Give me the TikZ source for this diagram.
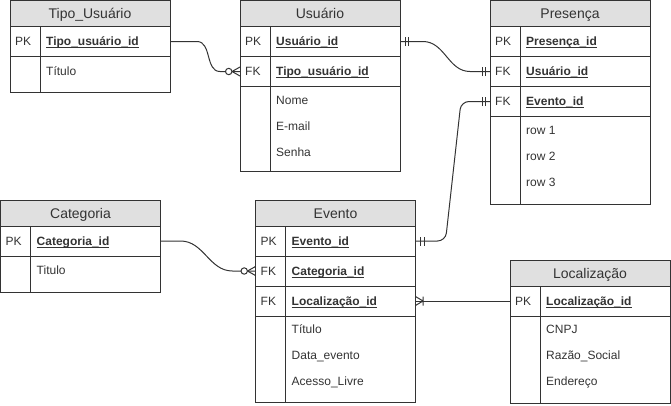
\documentclass[tikz,border=0pt]{standalone}
\usepackage{fontspec}
\setmainfont{Liberation Sans}
\usepackage{tikz}
\usetikzlibrary{positioning,decorations.markings}
\definecolor{hdrgray}{HTML}{E0E0E0}
\definecolor{inkgray}{HTML}{333333}
\newcommand{\keyul}[1]{\underline{\smash{#1}}}

\begin{document}
\begin{tikzpicture}[x=1pt,y=-1pt,
  font=\fontsize{12}{14}\selectfont, text=inkgray,
  tabhead/.style={draw=inkgray,fill=hdrgray,line width=1pt,minimum width=160pt,
                  minimum height=26pt,inner sep=0pt,outer sep=0pt,
                  text height=13pt,text depth=3pt,font=\fontsize{14}{16}\selectfont},
  tabrow/.style={draw=inkgray,line width=1pt,minimum width=160pt,
                 minimum height=30pt,inner sep=0pt,outer sep=0pt},
  keytag/.style={anchor=base west,inner sep=0pt},
  keyfield/.style={anchor=base west,inner sep=0pt,
                   font=\fontsize{12}{14}\selectfont\bfseries},
  attr/.style={anchor=base west,inner sep=0pt},
  divider/.style={inkgray,line width=1pt},
  rel/.style={black!80,line width=1pt},
  onestart/.style={postaction={decorate,decoration={markings,
      mark=at position 5pt with {\draw[rel] (0,-4.5pt) -- (0,4.5pt);},
      mark=at position 8.5pt with {\draw[rel] (0,-4.5pt) -- (0,4.5pt);}}}},
  oneend/.style={postaction={decorate,decoration={markings,
      mark=at position -8pt with {\draw[rel] (0,-4.5pt) -- (0,4.5pt);},
      mark=at position -4.5pt with {\draw[rel] (0,-4.5pt) -- (0,4.5pt);}}}},
  zeromanyend/.style={postaction={decorate,decoration={markings,
      mark=at position -8pt with {\draw[rel] (0,0) -- (8pt,4.5pt) (0,0) -- (8pt,-4.5pt);
                                 \draw[rel,fill=white] (-3.3pt,0) circle (3.2pt);}}}},
  onemanystart/.style={postaction={decorate,decoration={markings,
      mark=at position 7.5pt with {\draw[rel] (0,0) -- (-7.5pt,4.5pt) (0,0) -- (-7.5pt,-4.5pt)
                                               (0,-4.5pt) -- (0,4.5pt);}}}}
]
  \useasboundingbox (0,0) rectangle (671,405);

  % Tipo_Usuario table
  \node[tabhead] (tu) at (90,13.5) {Tipo\_Usuário};
  \node[tabrow,below=0pt of tu] (tupk) {};
  \node[tabrow,below=0pt of tupk,minimum height=36pt] (tuat) {};
  \draw[divider] ([xshift=30pt]tupk.north west) -- ([xshift=30pt]tuat.south west);
  \node[keytag] (tupkk) at ([xshift=5pt,yshift=-4.3pt]tupk.west) {PK};
  \node[keyfield] (tupkf) at ([xshift=36pt,yshift=-4.3pt]tupk.west) {\keyul{Tipo\_usuário\_id}};
  \node[attr] (tuat1) at ([xshift=36pt,yshift=-19pt]tuat.north west) {Título};

  % Usuario table
  \node[tabhead] (us) at (320,13.5) {Usuário};
  \node[tabrow,below=0pt of us] (uspk) {};
  \node[tabrow,below=0pt of uspk] (usfk) {};
  \node[tabrow,below=0pt of usfk,minimum height=85pt] (usat) {};
  \draw[divider] ([xshift=30pt]uspk.north west) -- ([xshift=30pt]usat.south west);
  \node[keytag] (uspkk) at ([xshift=5pt,yshift=-4.3pt]uspk.west) {PK};
  \node[keyfield] (uspkf) at ([xshift=36pt,yshift=-4.3pt]uspk.west) {\keyul{Usuário\_id}};
  \node[keytag] (usfkk) at ([xshift=5pt,yshift=-4.3pt]usfk.west) {FK};
  \node[keyfield] (usfkf) at ([xshift=36pt,yshift=-4.3pt]usfk.west) {\keyul{Tipo\_usuário\_id}};
  \foreach \t/\d [count=\i] in {Nome/18.3,E-mail/44.3,Senha/70.3}
    \node[attr] (usa\i) at ([xshift=36pt,yshift=-\d pt]usat.north west) {\t};

  % Presenca table
  \node[tabhead] (pr) at (570,13.5) {Presença};
  \node[tabrow,below=0pt of pr] (prpk) {};
  \node[tabrow,below=0pt of prpk] (prfku) {};
  \node[tabrow,below=0pt of prfku] (prfke) {};
  \node[tabrow,below=0pt of prfke,minimum height=88pt] (prat) {};
  \draw[divider] ([xshift=30pt]prpk.north west) -- ([xshift=30pt]prat.south west);
  \node[keytag] (prpkk) at ([xshift=5pt,yshift=-4.3pt]prpk.west) {PK};
  \node[keyfield] (prpkf) at ([xshift=36pt,yshift=-4.3pt]prpk.west) {\keyul{Presença\_id}};
  \node[keytag] (prfkuk) at ([xshift=5pt,yshift=-4.3pt]prfku.west) {FK};
  \node[keyfield] (prfkuf) at ([xshift=36pt,yshift=-4.3pt]prfku.west) {\keyul{Usuário\_id}};
  \node[keytag] (prfkek) at ([xshift=5pt,yshift=-4.3pt]prfke.west) {FK};
  \node[keyfield] (prfkef) at ([xshift=36pt,yshift=-4.3pt]prfke.west) {\keyul{Evento\_id}};
  \foreach \t/\d [count=\i] in {row 1/18.3,row 2/44.3,row 3/70.3}
    \node[attr] (pra\i) at ([xshift=36pt,yshift=-\d pt]prat.north west) {\t};

  % Categoria table
  \node[tabhead] (ca) at (80.5,213) {Categoria};
  \node[tabrow,below=0pt of ca] (capk) {};
  \node[tabrow,below=0pt of capk,minimum height=36pt] (caat) {};
  \draw[divider] ([xshift=30pt]capk.north west) -- ([xshift=30pt]caat.south west);
  \node[keytag] (capkk) at ([xshift=5pt,yshift=-4.3pt]capk.west) {PK};
  \node[keyfield] (capkf) at ([xshift=36pt,yshift=-4.3pt]capk.west) {\keyul{Categoria\_id}};
  \node[attr] (caat1) at ([xshift=36pt,yshift=-18.5pt]caat.north west) {Titulo};

  % Evento table
  \node[tabhead] (ev) at (335.5,213) {Evento};
  \node[tabrow,below=0pt of ev] (evpk) {};
  \node[tabrow,below=0pt of evpk] (evfkc) {};
  \node[tabrow,below=0pt of evfkc] (evfkl) {};
  \node[tabrow,below=0pt of evfkl,minimum height=86pt] (evat) {};
  \draw[divider] ([xshift=30pt]evpk.north west) -- ([xshift=30pt]evat.south west);
  \node[keytag] (evpkk) at ([xshift=5pt,yshift=-4.3pt]evpk.west) {PK};
  \node[keyfield] (evpkf) at ([xshift=36pt,yshift=-4.3pt]evpk.west) {\keyul{Evento\_id}};
  \node[keytag] (evfkck) at ([xshift=5pt,yshift=-4.3pt]evfkc.west) {FK};
  \node[keyfield] (evfkcf) at ([xshift=36pt,yshift=-4.3pt]evfkc.west) {\keyul{Categoria\_id}};
  \node[keytag] (evfklk) at ([xshift=5pt,yshift=-4.3pt]evfkl.west) {FK};
  \node[keyfield] (evfklf) at ([xshift=36pt,yshift=-4.3pt]evfkl.west) {\keyul{Localização\_id}};
  \foreach \t/\d [count=\i] in {Título/17.8,Data\_evento/43.8,Acesso\_Livre/69.8}
    \node[attr] (eva\i) at ([xshift=36pt,yshift=-\d pt]evat.north west) {\t};

  % Localizacao table
  \node[tabhead] (lo) at (590,273) {Localização};
  \node[tabrow,below=0pt of lo] (lopk) {};
  \node[tabrow,below=0pt of lopk,minimum height=87pt] (loat) {};
  \draw[divider] ([xshift=30pt]lopk.north west) -- ([xshift=30pt]loat.south west);
  \node[keytag] (lopkk) at ([xshift=5pt,yshift=-4.3pt]lopk.west) {PK};
  \node[keyfield] (lopkf) at ([xshift=36pt,yshift=-4.3pt]lopk.west) {\keyul{Localização\_id}};
  \foreach \t/\d [count=\i] in {CNPJ/17.8,Razão\_Social/43.8,Endereço/69.8}
    \node[attr] (loa\i) at ([xshift=36pt,yshift=-\d pt]loat.north west) {\t};

  % relationships
  \draw[rel,zeromanyend] (tupk.east) -- ++(27,0) to[out=0,in=180]
    ([xshift=-20pt]usfk.west) -- (usfk.west);
  \draw[rel,onestart,oneend] (uspk.east) -- ++(23,0) to[out=0,in=180]
    ([xshift=-20pt]prfku.west) -- (prfku.west);
  \draw[rel,rounded corners=8pt,onestart,oneend] (evpk.east) -- ([xshift=30pt]evpk.east)
    -- ([xshift=-29pt]prfke.west) -- (prfke.west);
  \draw[rel,zeromanyend] (capk.east) -- ++(20,0) to[out=0,in=180]
    ([xshift=-23pt]evfkc.west) -- (evfkc.west);
  \draw[rel,onemanystart] (evfkl.east) -- (lopk.west);
\end{tikzpicture}
\end{document}
